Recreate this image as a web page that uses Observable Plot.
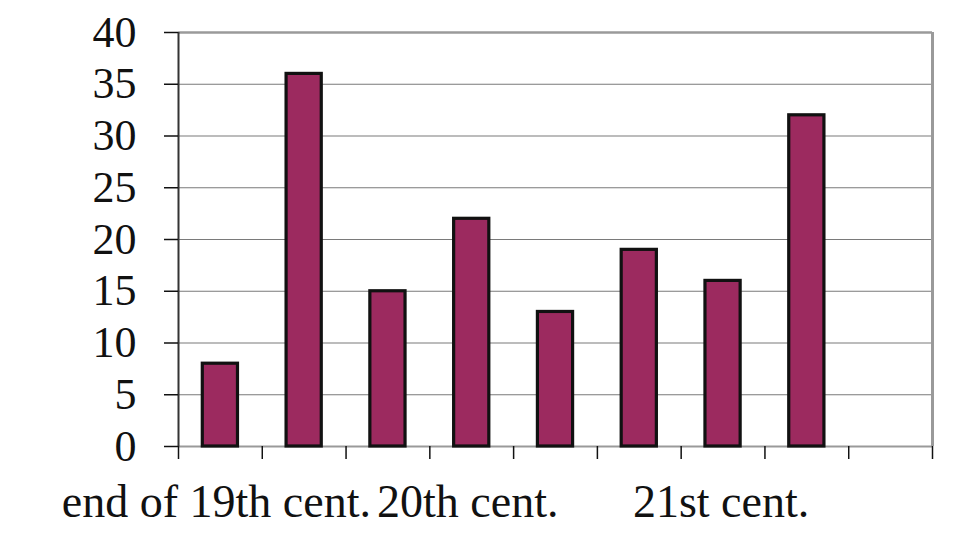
<!DOCTYPE html>
<html>
<head>
<meta charset="utf-8">
<script src="https://cdn.jsdelivr.net/npm/d3@7"></script>
<script src="https://cdn.jsdelivr.net/npm/@observablehq/plot@0.6"></script>
<style>
  html, body { margin: 0; padding: 0; background: #fff; }
  #chart svg { display: block; }
</style>
</head>
<body>
<div id="chart"></div>
<script>
// Data
const slots = [0, 1, 2, 3, 4, 5, 6, 7, 8];          // category positions (9 slots, last empty)
const values = [8, 36, 15, 22, 13, 19, 16, 32];      // bar heights
const categoryLabels = ["end of 19th cent.", "20th cent.", "21st cent."];
const labelSlots = [0, 3, 6];
const labelShift = [-4, -4, -2];
const yTicks = [0, 5, 10, 15, 20, 25, 30, 35, 40];
const xTicks = [0, 1, 2, 3, 4, 5, 6, 7, 8, 9];

const bars = values.map((v, i) => ({slot: slots[i], value: v}));

const FONT = "'Liberation Serif', 'Times New Roman', serif";

const labelMarks = categoryLabels.map((t, i) => Plot.text([{slot: labelSlots[i], text: t}], {
  x: d => d.slot + 0.5, y: () => 0, text: "text", dx: labelShift[i], dy: 56,
  fontSize: 46, fill: "#111", textAnchor: "middle"
}));

const chart = Plot.plot({
  width: 967,
  height: 539,
  marginLeft: 178,
  marginRight: 35,
  marginTop: 32,
  marginBottom: 93,
  style: {fontFamily: FONT, fontSize: "44px", color: "#000", background: "#fff"},
  x: {type: "linear", domain: [0, 9], label: null},
  y: {type: "linear", domain: [0, 40], label: null},
  marks: [
    // gridlines
    Plot.ruleY(yTicks.filter(d => d > 0 && d < 40), {stroke: "#7a7a7a", strokeWidth: 1.2}),
    // frame: top, right, bottom
    Plot.ruleY([40], {stroke: "#9a9a9a", strokeWidth: 2.5}),
    Plot.ruleX([9], {stroke: "#9a9a9a", strokeWidth: 3}),
    Plot.ruleY([0], {stroke: "#9a9a9a", strokeWidth: 2}),
    // bars
    Plot.rectY(bars, {
      x1: d => d.slot + 0.29, x2: d => d.slot + 0.71, y1: () => 0, y2: "value",
      fill: "#9c2a5f", stroke: "#111", strokeWidth: 3.2
    }),
    // left axis line
    Plot.ruleX([0], {stroke: "#333", strokeWidth: 2}),
    // y axis ticks + labels
    Plot.axisY(yTicks, {
      anchor: "left", tickSize: 14, tickPadding: 28, stroke: "#111", strokeWidth: 1.5,
      fontSize: 44, fill: "#111", tickFormat: d => String(d), label: null
    }),
    // x axis ticks at slot boundaries
    Plot.axisX(xTicks, {
      anchor: "bottom", tickSize: 13, stroke: "#111", strokeWidth: 1.5,
      tickFormat: () => "", label: null
    }),
    ...labelMarks
  ]
});

document.getElementById("chart").appendChild(chart);
</script>
</body>
</html>
